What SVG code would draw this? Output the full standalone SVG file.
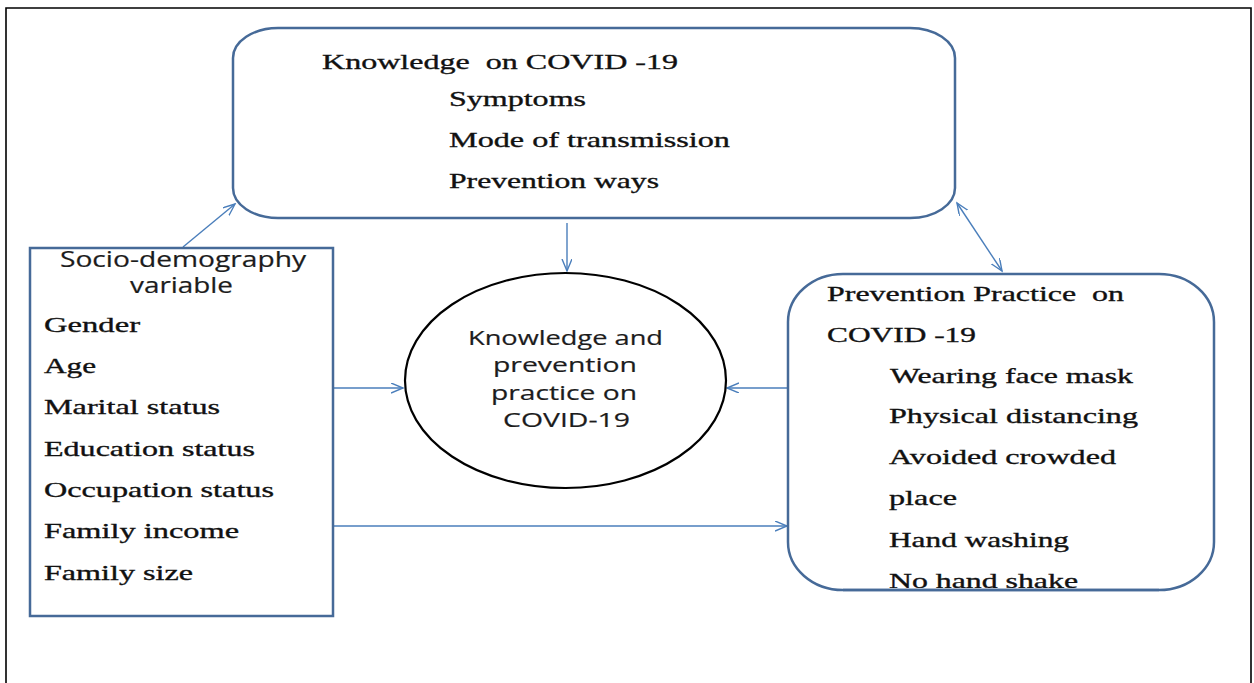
<svg xmlns="http://www.w3.org/2000/svg" width="1254" height="683" viewBox="0 0 1254 683">
<style>
.box{fill:#fff;stroke:#466a98;stroke-width:2.5}
.ser{font-family:"Liberation Serif","Times New Roman",serif;font-size:22px;fill:#111;stroke:#111;stroke-width:0.35}
.sans{font-family:"Open Sans","Liberation Sans",sans-serif;font-size:21px;fill:#1c1c1c;stroke:#1c1c1c;stroke-width:0.2}
.con{fill:none;stroke:#4a7ebb;stroke-width:1.4}
</style>
<defs>
<marker id="ah" markerUnits="userSpaceOnUse" markerWidth="14" markerHeight="12" refX="12" refY="5" orient="auto-start-reverse">
<path d="M0,0 L12,5 L0,10" fill="none" stroke="#4a7ebb" stroke-width="1.4"/>
</marker>
<clipPath id="clipR"><rect x="780" y="270" width="440" height="318"/></clipPath>
</defs>
<rect width="1254" height="683" fill="#fff"/>
<path d="M6,690 V8 H1251 V690" fill="none" stroke="#000" stroke-width="1.6"/>

<g id="connectors">
<line class="con" x1="183" y1="247" x2="235" y2="204" marker-end="url(#ah)"/>
<line class="con" x1="567" y1="223" x2="567" y2="271" marker-end="url(#ah)"/>
<line class="con" x1="957" y1="203" x2="1002" y2="271" marker-start="url(#ah)" marker-end="url(#ah)"/>
<line class="con" x1="333" y1="388" x2="403" y2="388" marker-end="url(#ah)"/>
<line class="con" x1="787" y1="388" x2="727" y2="388" marker-end="url(#ah)"/>
<line class="con" x1="333" y1="526" x2="787" y2="526" marker-end="url(#ah)"/>
</g>

<g id="knowledge">
<rect class="box" x="233" y="28" width="722" height="190" rx="45" ry="30"/>
<text class="ser" x="322" y="69" textLength="356" lengthAdjust="spacingAndGlyphs" xml:space="preserve">Knowledge  on COVID -19</text>
<text class="ser" x="449" y="106" textLength="137" lengthAdjust="spacingAndGlyphs">Symptoms</text>
<text class="ser" x="449" y="147" textLength="281" lengthAdjust="spacingAndGlyphs">Mode of transmission</text>
<text class="ser" x="449" y="188" textLength="210" lengthAdjust="spacingAndGlyphs">Prevention ways</text>
</g>

<g id="socio">
<rect class="box" x="30" y="248" width="303" height="368"/>
<text class="sans" x="60" y="267" textLength="246" lengthAdjust="spacingAndGlyphs">Socio-demography</text>
<text class="sans" x="130" y="293" textLength="103" lengthAdjust="spacingAndGlyphs">variable</text>
<text class="ser" x="44" y="332" textLength="96" lengthAdjust="spacingAndGlyphs">Gender</text>
<text class="ser" x="44" y="373" textLength="52" lengthAdjust="spacingAndGlyphs">Age</text>
<text class="ser" x="44" y="414" textLength="176" lengthAdjust="spacingAndGlyphs">Marital status</text>
<text class="ser" x="44" y="456" textLength="211" lengthAdjust="spacingAndGlyphs">Education status</text>
<text class="ser" x="44" y="497" textLength="230" lengthAdjust="spacingAndGlyphs">Occupation status</text>
<text class="ser" x="44" y="538" textLength="195" lengthAdjust="spacingAndGlyphs">Family income</text>
<text class="ser" x="44" y="580" textLength="149" lengthAdjust="spacingAndGlyphs">Family size</text>
</g>

<g id="outcome">
<ellipse cx="565.5" cy="380.5" rx="160.5" ry="107.5" fill="#fff" stroke="#000" stroke-width="2.2"/>
<text class="sans" x="468" y="345" textLength="195" lengthAdjust="spacingAndGlyphs" style="font-size:20px">Knowledge and</text>
<text class="sans" x="493" y="372" textLength="144" lengthAdjust="spacingAndGlyphs" style="font-size:20px">prevention</text>
<text class="sans" x="491" y="400" textLength="146" lengthAdjust="spacingAndGlyphs" style="font-size:20px">practice on</text>
<text class="sans" x="503" y="427" textLength="127" lengthAdjust="spacingAndGlyphs" style="font-size:20px">COVID-19</text>
</g>

<g id="practice">
<rect class="box" x="788" y="274" width="426" height="316" rx="55" ry="48"/>
<g clip-path="url(#clipR)">
<text class="ser" x="827" y="301" textLength="297" lengthAdjust="spacingAndGlyphs" xml:space="preserve">Prevention Practice  on</text>
<text class="ser" x="827" y="342" textLength="149" lengthAdjust="spacingAndGlyphs">COVID -19</text>
<text class="ser" x="890" y="383" textLength="243" lengthAdjust="spacingAndGlyphs">Wearing face mask</text>
<text class="ser" x="889" y="423" textLength="249" lengthAdjust="spacingAndGlyphs">Physical distancing</text>
<text class="ser" x="889" y="464" textLength="227" lengthAdjust="spacingAndGlyphs">Avoided crowded</text>
<text class="ser" x="889" y="505" textLength="68" lengthAdjust="spacingAndGlyphs">place</text>
<text class="ser" x="889" y="547" textLength="180" lengthAdjust="spacingAndGlyphs">Hand washing</text>
<text class="ser" x="889" y="588" textLength="189" lengthAdjust="spacingAndGlyphs">No hand shake</text>
</g>
<path d="M843,590 H1159" fill="none" stroke="#466a98" stroke-width="2.5"/>
</g>
</svg>
